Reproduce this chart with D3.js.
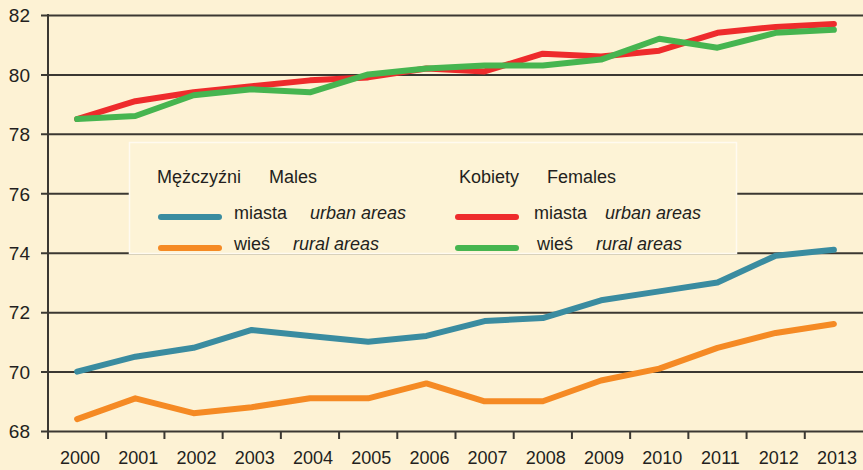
<!DOCTYPE html>
<html>
<head>
<meta charset="utf-8">
<style>
  body { margin: 0; background: #fdf2d4; }
  svg { display: block; font-family: "Liberation Sans", Arial, sans-serif; }
  .grid line { stroke: #3b3832; stroke-width: 2; }
  .series { fill: none; stroke-width: 6; stroke-linecap: round; stroke-linejoin: round; }
  .leg text { font-size: 18px; fill: #231f20; }
</style>
</head>
<body>
<div id="chart"></div>
<script src="https://d3js.org/d3.v7.min.js"></script>
<script>
const years = [2000, 2001, 2002, 2003, 2004, 2005, 2006, 2007, 2008, 2009, 2010, 2011, 2012, 2013];
const yTicks = [68, 70, 72, 74, 76, 78, 80, 82];

// life expectancy, years
const malesUrban   = [70.0, 70.5, 70.8, 71.4, 71.2, 71.0, 71.2, 71.7, 71.8, 72.4, 72.7, 73.0, 73.9, 74.1];
const malesRural   = [68.4, 69.1, 68.6, 68.8, 69.1, 69.1, 69.6, 69.0, 69.0, 69.7, 70.1, 70.8, 71.3, 71.6];
const femalesUrban = [78.5, 79.1, 79.4, 79.6, 79.8, 79.9, 80.2, 80.1, 80.7, 80.6, 80.8, 81.4, 81.6, 81.7];
const femalesRural = [78.5, 78.6, 79.3, 79.5, 79.4, 80.0, 80.2, 80.3, 80.3, 80.5, 81.2, 80.9, 81.4, 81.5];

const width = 863;
const height = 470;
const plotLeft = 48, plotRight = 863, plotTop = 15, plotBottom = 431;

const svg = d3.select('#chart')
  .append('svg')
  .attr('width', width)
  .attr('height', height);

const x = d3.scaleBand()
  .domain(years)
  .range([plotLeft, plotRight])
  .padding(0);

const y = d3.scaleLinear()
  .domain([68, 82])
  .range([plotBottom, plotTop]);

// horizontal grid + y labels
const yAxis = d3.axisLeft(y)
  .tickValues(yTicks)
  .tickSize(-(plotRight - plotLeft + 7))
  .tickPadding(11)
  .tickFormat(d3.format('d'));

svg.append('g')
  .attr('class', 'grid')
  .attr('transform', `translate(${plotLeft - 7}, 0)`)
  .call(yAxis)
  .call(g => g.select('.domain').remove())
  .call(g => g.selectAll('text')
    .attr('fill', '#231f20')
    .attr('font-size', 19)
    .attr('dy', '0.36em'));

// vertical axis line
svg.append('line')
  .attr('x1', plotLeft).attr('x2', plotLeft)
  .attr('y1', y(82) - 1).attr('y2', plotBottom + 8)
  .attr('stroke', '#3b3832')
  .attr('stroke-width', 2);

// x axis: ticks between years, labels centred
const xAxis = d3.axisBottom(x)
  .tickSize(8)
  .tickPadding(12);

svg.append('g')
  .attr('transform', `translate(0, ${plotBottom})`)
  .call(xAxis)
  .call(g => g.select('.domain').remove())
  .call(g => g.selectAll('.tick line')
    .attr('stroke', '#3b3832')
    .attr('stroke-width', 2)
    .attr('transform', `translate(${-x.bandwidth() / 2}, 0)`))
  .call(g => g.selectAll('.tick text')
    .attr('fill', '#231f20')
    .attr('font-size', 18)
    .attr('dx', '3'));

// legend box (covers the grid)
const leg = svg.append('g').attr('class', 'leg');
leg.append('rect')
  .attr('x', 129.5).attr('y', 142.5)
  .attr('width', 607).attr('height', 111)
  .attr('fill', '#fdf3d6')
  .attr('stroke', '#fffaf0')
  .attr('stroke-width', 1.5);

const legendItems = [
  { head: ['Mężczyźni', 'Males'], hx: [157, 269], col: 158,
    rows: [
      { color: '#3a8ca0', pl: 'miasta', en: 'urban areas', tx: [234, 310] },
      { color: '#f58a24', pl: 'wieś', en: 'rural areas', tx: [234, 293] }
    ] },
  { head: ['Kobiety', 'Females'], hx: [459, 547], col: 455,
    rows: [
      { color: '#ee2b2c', pl: 'miasta', en: 'urban areas', tx: [534, 605] },
      { color: '#46b550', pl: 'wieś', en: 'rural areas', tx: [537, 596] }
    ] }
];

legendItems.forEach(item => {
  leg.append('text').attr('x', item.hx[0]).attr('y', 183).text(item.head[0]);
  leg.append('text').attr('x', item.hx[1]).attr('y', 183).text(item.head[1]);
  item.rows.forEach((r, i) => {
    const ly = 217 + i * 31;
    leg.append('line')
      .attr('x1', item.col + 3).attr('x2', item.col + 61)
      .attr('y1', ly).attr('y2', ly)
      .attr('stroke', r.color)
      .attr('stroke-width', 6)
      .attr('stroke-linecap', 'round');
    leg.append('text').attr('x', r.tx[0]).attr('y', ly + 2).text(r.pl);
    leg.append('text').attr('x', r.tx[1]).attr('y', ly + 2)
      .attr('font-style', 'italic').text(r.en);
  });
});

// series lines
const line = d3.line()
  .x((d, i) => x(years[i]) + x.bandwidth() / 2)
  .y(d => y(d));

const series = [
  { values: malesUrban, color: '#3a8ca0' },
  { values: malesRural, color: '#f58a24' },
  { values: femalesUrban, color: '#ee2b2c' },
  { values: femalesRural, color: '#46b550' }
];

svg.selectAll('path.series')
  .data(series)
  .enter()
  .append('path')
  .attr('class', 'series')
  .attr('stroke', d => d.color)
  .attr('d', d => line(d.values));
</script>
</body>
</html>
